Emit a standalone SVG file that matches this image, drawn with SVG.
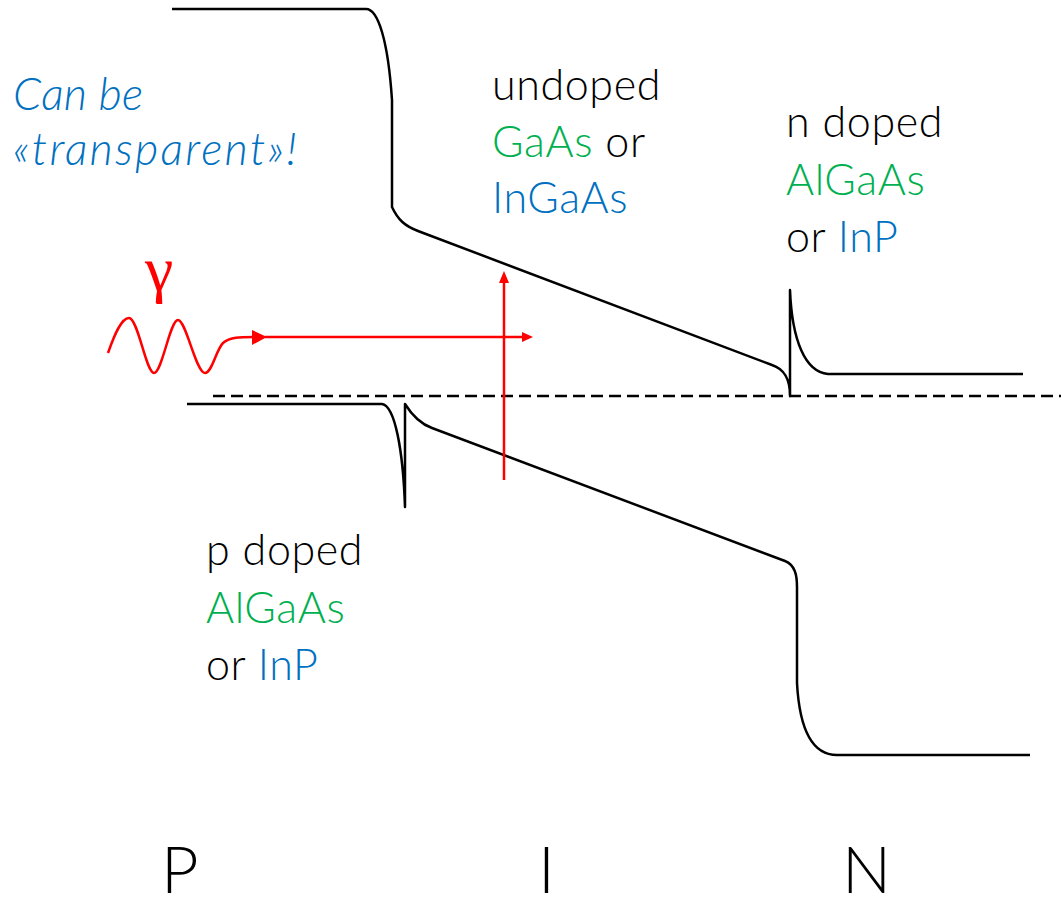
<svg xmlns="http://www.w3.org/2000/svg" width="1061" height="901" viewBox="0 0 1061 901">
<style>
.band{fill:none;stroke:#000;stroke-width:2.5;stroke-linejoin:round}
.fermi{fill:none;stroke:#000;stroke-width:2.5;stroke-dasharray:12 6}
.ray{fill:none;stroke:#FF0000;stroke-width:2.5}
.head{fill:#FF0000}
.lbl{font-family:Lato,"Open Sans","Liberation Sans",sans-serif;font-weight:300;font-size:43px;letter-spacing:0.6px;fill:#000}
.big{font-family:Lato,"Open Sans","Liberation Sans",sans-serif;font-weight:300;font-size:65px;fill:#000}
.g{fill:#00B050}
.b{fill:#0070C0}
.note{font-family:Lato,"Open Sans","Liberation Sans",sans-serif;font-weight:300;font-style:italic;font-size:45px;fill:#0070C0}
.gamma{font-family:"Liberation Serif",serif;font-size:64px;fill:#FF0000}
</style>
<g id="bands">
<path id="conduction-band" class="band" d="M172,9 L366,9 C378,9 388,40 392,100 L392,207 C398,220 405,226 418,231 L772,365 C784,369 790,378 790,396 L790,290 C792,340 805,372 828,374 L1023,374"/>
<path id="valence-band" class="band" d="M187,404 L382,404 C395,406 403,450 405,507 L405,404 C410,412 418,423 432,428 L785,561 C795,565 797,575 797,587 L797,683 C799,720 808,755 837,755 L1030,755"/>
<path id="fermi-level" class="fermi" d="M213,396 L1061,396"/>
</g>
<g id="photon">
<path class="ray" d="M108,353 C114,336 121,318 129,318 C138,318 146,373 154,373 C162,373 170,320 178,320 C186,320 196,373 205,373 C212,373 216,350 223,343 C230,337 240,337 254,337"/>
<polygon class="head" points="252,330 267,337 252,345"/>
<path class="ray" d="M265,337 L524,337"/>
<polygon class="head" points="522,332 533,337 522,342"/>
<path class="ray" d="M504,480 L504,281"/>
<polygon class="head" points="499,283 504,271 509,283"/>
<text class="gamma" x="145" y="290">γ</text>
</g>
<g id="note"><text class="note"><tspan x="13" y="110" textLength="130" lengthAdjust="spacing">Can be</tspan><tspan x="13" y="165" textLength="284" lengthAdjust="spacing">«transparent»!</tspan></text></g>
<g id="label-i"><text class="lbl"><tspan x="492" y="100">undoped</tspan><tspan x="492" y="157"><tspan class="g">GaAs</tspan> or</tspan><tspan class="b" x="492" y="213">InGaAs</tspan></text></g>
<g id="label-n"><text class="lbl"><tspan x="786" y="137">n doped</tspan><tspan class="g" x="786" y="195">AlGaAs</tspan><tspan x="786" y="252">or <tspan class="b">InP</tspan></tspan></text></g>
<g id="label-p"><text class="lbl"><tspan x="206" y="565">p doped</tspan><tspan class="g" x="206" y="623">AlGaAs</tspan><tspan x="206" y="680">or <tspan class="b">InP</tspan></tspan></text></g>
<g id="region-labels">
<text class="big" x="161" y="893">P</text>
<text class="big" x="538" y="893">I</text>
<text class="big" x="842" y="893">N</text>
</g>
</svg>
